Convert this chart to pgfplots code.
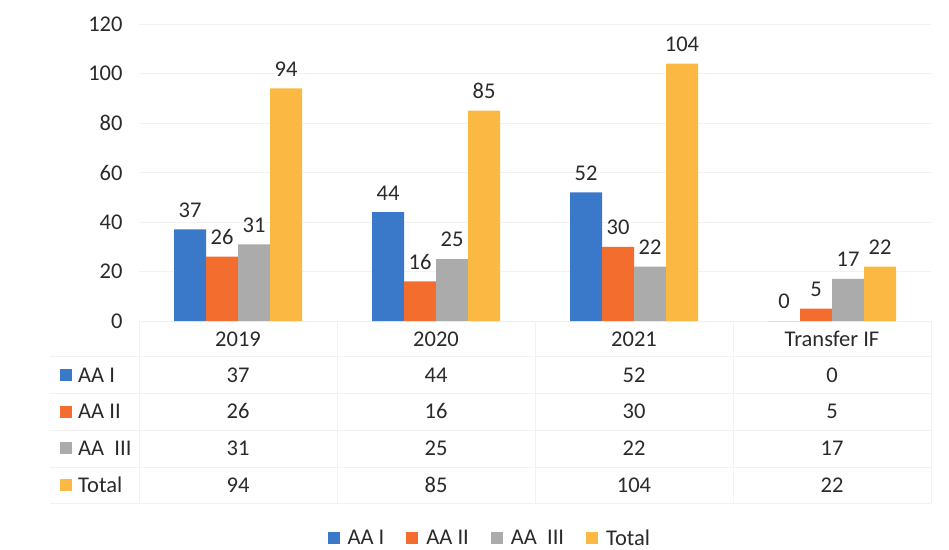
\documentclass[border=0pt]{standalone}
\usepackage{pgfplots}
\pgfplotsset{compat=1.18}
\usepackage{fontspec}
\setmainfont{Carlito}
\definecolor{cA}{HTML}{3A78C9}
\definecolor{cB}{HTML}{F26D2E}
\definecolor{cC}{HTML}{ABABAB}
\definecolor{cD}{HTML}{FBB843}
\definecolor{txt}{HTML}{2A2A2A}
\definecolor{gridc}{HTML}{F2F2F2}
\newcommand{\fs}{\fontsize{22.5}{26}\selectfont}
\begin{document}
\begin{tikzpicture}[font=\fs]
\path[use as bounding box] (-139pt,-228pt) rectangle (810pt,321pt);
% table grid
\foreach \y in {-35,-72,-109,-146,-182} {\draw[gridc] (-89pt,\y pt) -- (792pt,\y pt);}
\foreach \x in {0,198,396,594,792} {\draw[gridc] (\x pt,0pt) -- (\x pt,-182pt);}
\begin{axis}[
  scale only axis, width=792pt, height=297pt,
  ybar=0pt, bar width=32pt,
  xmin=-0.5, xmax=3.5, ymin=0, ymax=120,
  ytick={0,20,...,120},
  xtick={0,1,2,3}, xticklabels={2019,2020,2021,Transfer IF},
  xticklabel style={anchor=base, yshift=-25pt},
  yticklabel style={xshift=-13pt},
  tick label style={font=\fs, text=txt},
  /pgf/number format/assume math mode=true,
  major tick length=0pt,
  axis line style={draw=none},
  ymajorgrids, grid style={gridc},
  clip=false,
  nodes near coords,
  every node near coord/.append style={font=\fs, text=txt, yshift=8.5pt},
  legend columns=-1,
  legend style={at={(rel axis cs:0.443,-0.7306)}, anchor=center, draw=none, fill=none,
    font=\fs, text=txt, inner sep=0pt,
    /tikz/every even column/.append style={column sep=20pt},
    /tikz/every odd column/.append style={column sep=6pt}},
  legend image code/.code={\fill[#1] (0pt,-6pt) rectangle (12pt,6pt);},
]
\addplot[fill=cA, draw=none] coordinates {(0,37) (1,44) (2,52) (3,0)};
\addplot[fill=cB, draw=none] coordinates {(0,26) (1,16) (2,30) (3,5)};
\addplot[fill=cC, draw=none] coordinates {(0,31) (1,25) (2,22) (3,17)};
\addplot[fill=cD, draw=none] coordinates {(0,94) (1,85) (2,104) (3,22)};
\legend{AA I, AA II, AA\ \ III, Total}
\end{axis}
% data table
\foreach \r/\lab/\col/\a/\b/\c/\d in {0/AA I/cA/37/44/52/0, 1/AA II/cB/26/16/30/5, 2/AA\ \ III/cC/31/25/22/17, 3/Total/cD/94/85/104/22} {
  \pgfmathsetmacro{\yy}{-61-36.7*\r}
  \fill[\col] (-79pt,\yy pt+1pt) rectangle ++(12pt,12pt);
  \node[anchor=base west, text=txt, inner sep=0pt] at (-61pt,\yy pt) {\lab};
  \node[anchor=base, text=txt, inner sep=0pt] at (99pt,\yy pt) {\a};
  \node[anchor=base, text=txt, inner sep=0pt] at (297pt,\yy pt) {\b};
  \node[anchor=base, text=txt, inner sep=0pt] at (495pt,\yy pt) {\c};
  \node[anchor=base, text=txt, inner sep=0pt] at (693pt,\yy pt) {\d};
}
\end{tikzpicture}
\end{document}
